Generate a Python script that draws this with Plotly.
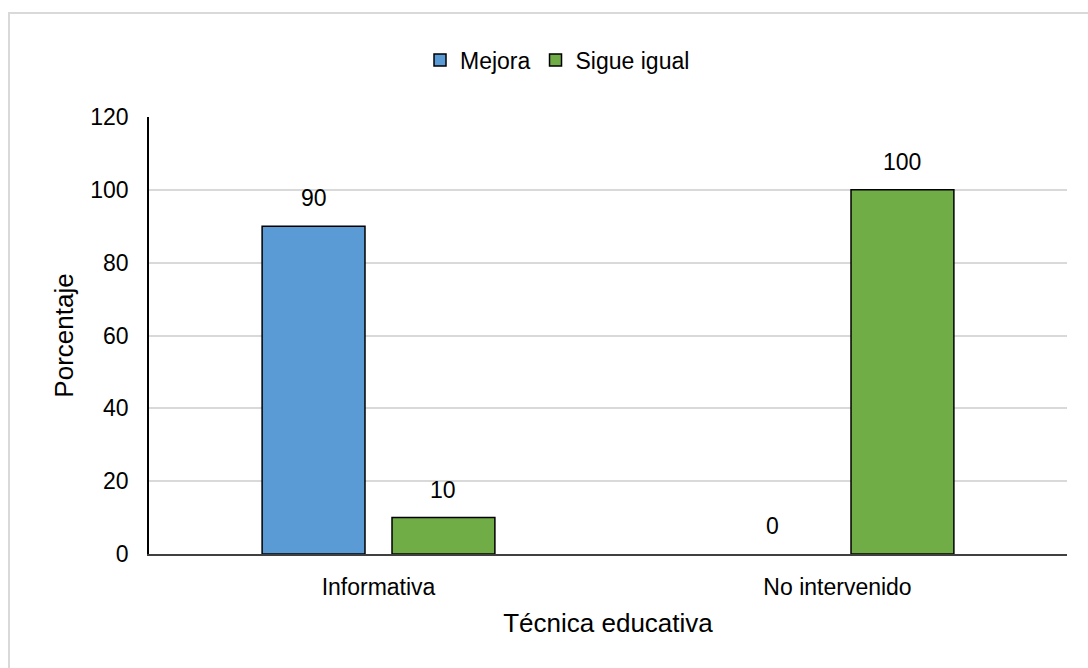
import plotly.graph_objects as go

# Data
categories = ["Informativa", "No intervenido"]
mejora = [90, 0]
sigue_igual = [10, 100]
series_names = ["Mejora", "Sigue igual"]
y_ticks = [0, 20, 40, 60, 80, 100, 120]

# Styling
BLUE = "#5B9BD5"
GREEN = "#70AD47"
FONT = "Liberation Sans, Arial, sans-serif"
W, H = 1088, 668
ML, MR, MT, MB = 149, 21, 117, 114
BARGAP = 0.434
BARGROUPGAP = 0.208

fig = go.Figure()
for name, vals, col in [(series_names[0], mejora, BLUE), (series_names[1], sigue_igual, GREEN)]:
    fig.add_trace(go.Bar(
        x=categories, y=vals, name=name,
        marker=dict(
            color=col,
            # no outline on empty bars so the baseline stays clean
            line=dict(color="black", width=[1.5 if v > 0 else 0 for v in vals]),
        ),
    ))

# Value labels above each bar, offset horizontally to the bar's slot within the group
plot_w = W - ML - MR
slot = plot_w / len(categories) * (1 - BARGAP) / 2
offset = slot / 2
for vals, sign in [(mejora, -1), (sigue_igual, 1)]:
    for cat, v in zip(categories, vals):
        fig.add_annotation(
            x=cat, y=v, xref="x", yref="y", text=str(v), showarrow=False,
            xshift=sign * offset, yshift=28, yanchor="middle",
            font=dict(family=FONT, size=23, color="black"),
        )

# Light outer frame around the chart
plot_h = H - MT - MB
fig.add_shape(
    type="rect", xref="paper", yref="paper",
    x0=(9 - ML) / plot_w, x1=(W + 20 - ML) / plot_w,
    y0=(H - MB - (H + 20)) / plot_h, y1=(H - MB - 13) / plot_h,
    line=dict(color="#d9d9d9", width=2), fillcolor="rgba(0,0,0,0)", layer="below",
)

fig.update_layout(
    width=W, height=H,
    margin=dict(l=ML, r=MR, t=MT, b=MB),
    paper_bgcolor="white", plot_bgcolor="white",
    barmode="group", bargap=BARGAP, bargroupgap=BARGROUPGAP,
    font=dict(family=FONT, size=23, color="black"),
    showlegend=True,
    legend=dict(
        orientation="h", x=0.445, xanchor="center", y=(H - MB - 60) / plot_h, yanchor="middle",
        font=dict(size=23), itemclick=False, traceorder="normal",
    ),
    xaxis=dict(
        showline=True, linecolor="#404040", linewidth=1.5,
        ticks="", ticklabelstandoff=12,
        tickfont=dict(size=23),
        title=dict(text="Técnica educativa", font=dict(size=26), standoff=14),
    ),
    yaxis=dict(
        range=[0, 120], tickvals=y_ticks,
        showline=True, linecolor="black", linewidth=1.5,
        showgrid=True, gridcolor="#d9d9d9", gridwidth=1.5,
        zeroline=False, ticks="", ticklabelstandoff=14,
        tickfont=dict(size=23),
        title=dict(text="Porcentaje", font=dict(size=26), standoff=9),
    ),
)

fig.write_html("out.html")
